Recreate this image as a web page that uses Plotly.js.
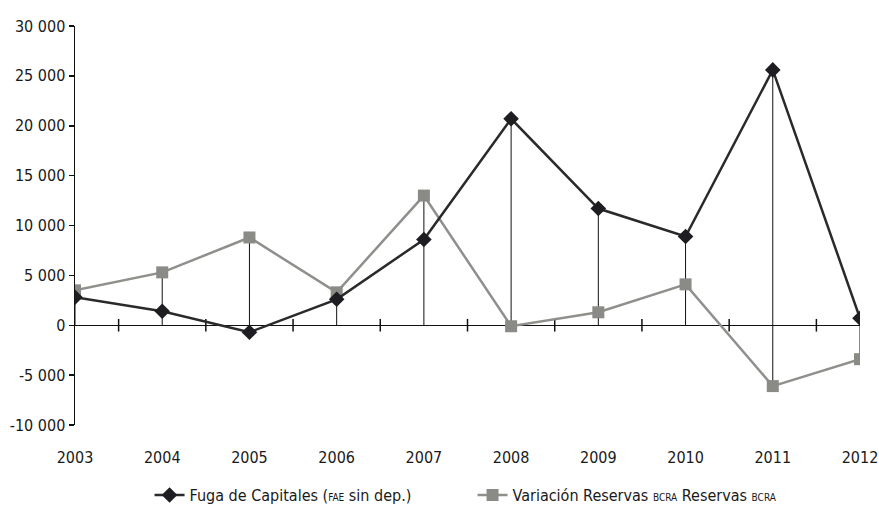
<!DOCTYPE html>
<html>
<head>
<meta charset="utf-8">
<script src="https://cdn.plot.ly/plotly-3.0.1.min.js"></script>
<style>html,body{margin:0;padding:0;background:#fff;}#chart{width:879px;height:519px;}</style>
</head>
<body>
<div id="chart"></div>
<script>
var years = [2003, 2004, 2005, 2006, 2007, 2008, 2009, 2010, 2011, 2012];
var fuga = [2800, 1400, -700, 2600, 8600, 20700, 11700, 8900, 25600, 700];
var reservas = [3500, 5300, 8800, 3300, 13000, -100, 1300, 4100, -6100, -3400];
var yTickVals = [-10000, -5000, 0, 5000, 10000, 15000, 20000, 25000, 30000];
var yTickText = ["-10 000", "-5 000", "0", "5 000", "10 000", "15 000", "20 000", "25 000", "30 000"];
var midTicks = [2003.5, 2004.5, 2005.5, 2006.5, 2007.5, 2008.5, 2009.5, 2010.5, 2011.5];
var nameFuga = 'Fuga de Capitales (<span style="font-size:10px">FAE</span> sin dep.)';
var nameRes = 'Variación Reservas <span style="font-size:10px">BCRA</span> Reservas <span style="font-size:10px">BCRA</span>';

var FONT = '"Liberation Sans Narrow", "DejaVu Sans Condensed", "Roboto Condensed", sans-serif';

// drop / high-low lines computed from the data
var dropX = [], dropY = [];
for (var i = 0; i < years.length; i++) {
  var hiVal = Math.max(fuga[i], reservas[i], 0);
  var loVal = Math.min(fuga[i], reservas[i], 0);
  dropX.push(years[i], years[i], null);
  dropY.push(hiVal, loVal, null);
}

var traces = [
  {x: dropX, y: dropY, type: 'scatter', mode: 'lines', line: {color: '#111', width: 1},
   showlegend: false, hoverinfo: 'skip'},
  {x: midTicks, y: midTicks.map(function(){return 0;}), type: 'scatter', mode: 'markers',
   marker: {symbol: 'line-ns', size: 9, line: {color: '#111', width: 1.5}},
   showlegend: false, hoverinfo: 'skip'},
  {x: years, y: reservas, type: 'scatter', mode: 'lines+markers', name: nameRes, legendrank: 2,
   line: {color: '#8f8f8c', width: 2.5}, marker: {symbol: 'square', size: 12, color: '#8a8a86'}},
  {x: years, y: fuga, type: 'scatter', mode: 'lines+markers', name: nameFuga, legendrank: 1,
   line: {color: '#2a2a2a', width: 2.5}, marker: {symbol: 'diamond', size: 12, color: '#1e1e22'}}
];

var layout = {
  width: 879, height: 519,
  margin: {l: 75, r: 19, t: 26, b: 94},
  paper_bgcolor: '#fff', plot_bgcolor: '#fff',
  font: {family: FONT, size: 16, color: '#1a1a1a'},
  showlegend: true,
  legend: {orientation: 'h', x: 0.5376, xanchor: 'center', xref: 'container',
           y: 0.046, yanchor: 'middle', yref: 'container',
           entrywidth: 278, entrywidthmode: 'pixels',
           font: {family: FONT, size: 16, color: '#1a1a1a'}},
  xaxis: {range: [2003, 2012], tickmode: 'array', tickvals: years, ticktext: years.map(String),
          showgrid: false, zeroline: false, showline: false, ticks: 'outside', ticklen: 18,
          tickcolor: 'rgba(0,0,0,0)', automargin: false,
          tickfont: {family: FONT, size: 16, color: '#1a1a1a'}},
  yaxis: {range: [-10000, 30000], tickmode: 'array', tickvals: yTickVals, ticktext: yTickText,
          showgrid: false, zeroline: true, zerolinecolor: '#111', zerolinewidth: 1.5,
          showline: true, linecolor: '#111', linewidth: 1.5, automargin: false,
          ticks: 'outside', ticklen: 5, tickcolor: '#111', tickwidth: 1.5,
          tickfont: {family: FONT, size: 16, color: '#1a1a1a'}}
};

Plotly.newPlot('chart', traces, layout, {displayModeBar: false, staticPlot: true});
</script>
</body>
</html>
